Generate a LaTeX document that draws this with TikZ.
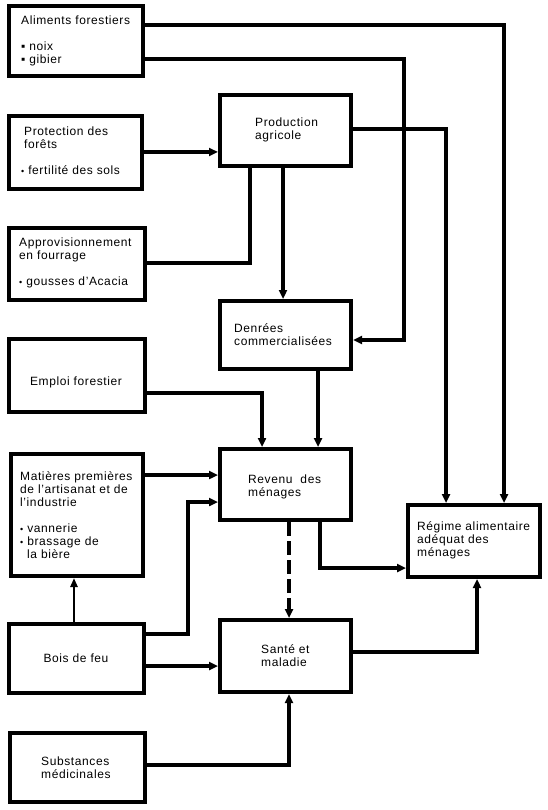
\documentclass[tikz,border=0pt]{standalone}
\usepackage{fontspec}
\setmainfont[LetterSpace=5]{Liberation Sans}
\usetikzlibrary{arrows.meta}
\newcommand\pointpuce{{\fontsize{9}{9}\selectfont •}}
\begin{document}
\begin{tikzpicture}[x=1pt,y=-1pt,
  box/.style={draw, line width=3.6pt, inner sep=0pt, anchor=north west},
  lbl/.style={inner sep=0pt, align=left, anchor=base west, font=\fontsize{12}{13}\selectfont},
  conn/.style={line width=3.6pt},
  thinconn/.style={line width=2.4pt, -{Triangle[length=9pt,width=7pt]}},
  arr/.style={conn, -{Triangle[length=9pt,width=8pt]}},
  dasharr/.style={arr, dash pattern=on 14pt off 5pt}]
\useasboundingbox (0,0) rectangle (547,810);

% boxes
\node[box, minimum width=134.4pt, minimum height=70.4pt] (alim) at (7,4) {};
\node[box, minimum width=133.4pt, minimum height=73.4pt] (prot) at (7,114) {};
\node[box, minimum width=131.4pt, minimum height=71.4pt] (prod) at (218,93) {};
\node[box, minimum width=136.4pt, minimum height=72.4pt] (appro) at (7,226) {};
\node[box, minimum width=136.4pt, minimum height=73.4pt] (emploi) at (7,337) {};
\node[box, minimum width=131.4pt, minimum height=68.4pt] (denr) at (218,299) {};
\node[box, minimum width=131.4pt, minimum height=71.4pt] (rev) at (218,447) {};
\node[box, minimum width=132.4pt, minimum height=122.4pt] (mat) at (9,452) {};
\node[box, minimum width=132.4pt, minimum height=72.4pt] (regime) at (406,503) {};
\node[box, minimum width=135.4pt, minimum height=69.4pt] (bois) at (7,622) {};
\node[box, minimum width=131.4pt, minimum height=72.4pt] (sante) at (218,618) {};
\node[box, minimum width=135.4pt, minimum height=69.4pt] (subst) at (8,731) {};

% texts (anchor = baseline of the last line)
\node[lbl] (alim-t) at (21,64) {Aliments forestiers\\[13pt]▪ noix\\▪ gibier};
\node[lbl] (prot-t) at (24,175) {Protection des\\forêts\\[13pt]\hspace*{-3pt}\pointpuce\ fertilité des sols};
\node[lbl] (prod-t) at (255,140) {Production\\agricole};
\node[lbl] (appro-t) at (19,285) {Approvisionnement\\en fourrage\\[13pt]\pointpuce\ gousses d'Acacia};
\node[lbl, anchor=base] (emploi-t) at (76,385) {Emploi forestier};
\node[lbl] (denr-t) at (234,345) {Denrées\\commercialisées};
\node[lbl] (rev-t) at (248,496) {Revenu\hspace{4pt} des\\ménages};
\node[lbl] (mat-t) at (20,558) {Matières premières\\de l'artisanat et de\\l'industrie\\[13pt]\pointpuce\ vannerie\\\pointpuce\ brassage de\\\hspace*{7pt}la bière};
\node[lbl] (regime-t) at (417,556) {Régime alimentaire\\adéquat des\\ménages};
\node[lbl] (sante-t) at (261,666) {Santé et\\maladie};
\node[lbl, anchor=base] (bois-t) at (76,662) {Bois de feu};
\node[lbl] (subst-t) at (41,778) {Substances\\médicinales};

% helper coordinates
\coordinate (k2) at (404,340);
\coordinate (k10) at (188,502);

% connectors
\draw[arr] (alim.east |- 0,25) -| (regime.north -| 504,0);
\draw[arr] (alim.east |- 0,59) -| (k2) -- (denr.east |- k2);
\draw[arr] (prot.east |- 0,152) -- (prod.west |- 0,152);
\draw[conn] (appro.east |- 0,263) -| (prod.south -| 250,0);
\draw[arr] (prod.south -| 283,0) -- (denr.north -| 283,0);
\draw[arr] (prod.east |- 0,129) -| (regime.north -| 446,0);
\draw[arr] (emploi.east |- 0,393) -| (rev.north -| 262,0);
\draw[arr] (denr.south -| 318,0) -- (rev.north -| 318,0);
\draw[arr] (mat.east |- 0,475) -- (rev.west |- 0,475);
\draw[arr] (bois.east |- 0,634) -| (k10) -- (rev.west |- k10);
\draw[thinconn] (bois.north -| 74,0) -- (mat.south -| 74,0);
\draw[arr] (bois.east |- 0,666) -- (sante.west |- 0,666);
\draw[dasharr] (rev.south -| 289,0) -- (sante.north -| 289,0);
\draw[arr] (rev.south -| 320,0) |- (regime.west |- 0,568);
\draw[arr] (sante.east |- 0,652) -| (regime.south -| 477,0);
\draw[arr] (subst.east |- 0,765) -| (sante.south -| 289,0);
\end{tikzpicture}
\end{document}
